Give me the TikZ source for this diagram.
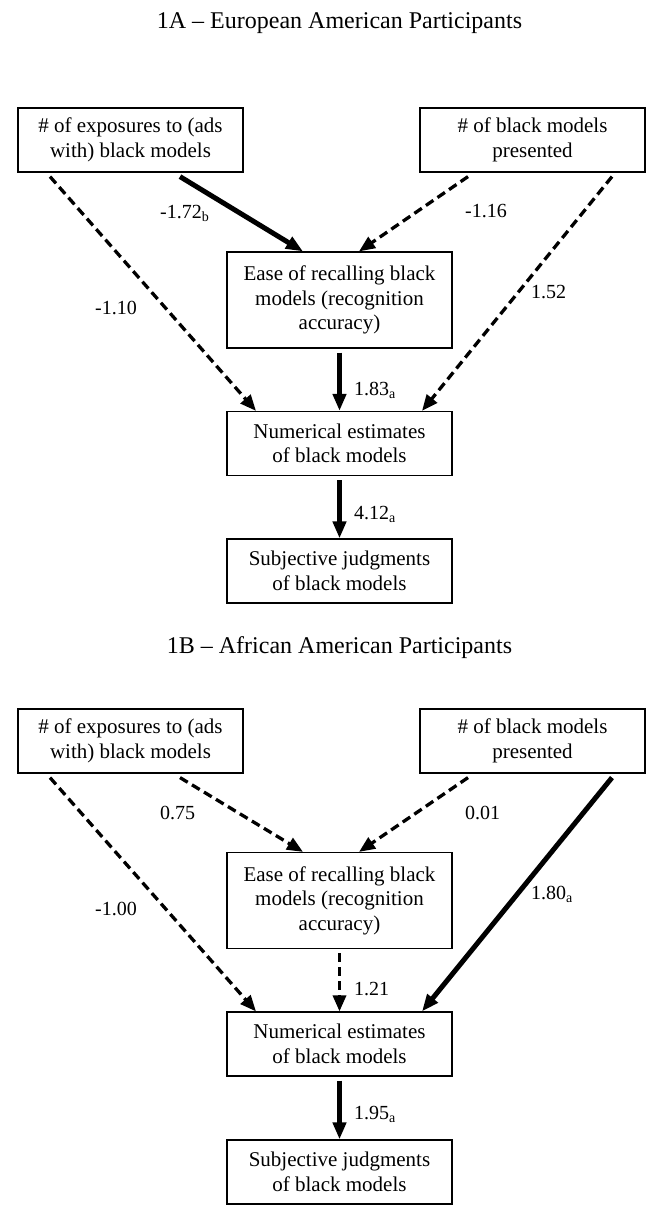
\documentclass[tikz,border=0pt]{standalone}
\usepackage{fontspec}
\setmainfont{Liberation Serif}
\usetikzlibrary{arrows.meta}
\begin{document}
\begin{tikzpicture}[x=1pt,y=-1pt,
  box/.style={draw,line width=1.2pt,rectangle,minimum width=225pt,inner sep=0pt,align=center,font=\fontsize{21}{24.5}\selectfont},
  twoline/.style={box,minimum height=64pt},
  threeline/.style={box,minimum height=96pt},
  title/.style={font=\fontsize{24}{28}\selectfont,anchor=base},
  lbl/.style={font=\fontsize{20}{24}\selectfont,anchor=base west,inner sep=0pt},
  sig/.style={line width=5pt,-{Triangle[length=17pt,width=13pt]}},
  nsig/.style={line width=3.3pt,dash pattern=on 9pt off 5pt,-{Triangle[length=16pt,width=13pt]}}
]
\useasboundingbox (0,0) rectangle (651,1205);

% ---------- 1A ----------
\node[title] (tA) at (339.5,28) {1A – European American Participants};
\node[twoline] (A1) at (130.5,140) {\# of exposures to (ads\\with) black models};
\node[twoline] (A2) at (532.5,140) {\# of black models\\presented};
\node[threeline] (EA) at (339.5,300) {Ease of recalling black\\models (recognition\\accuracy)};
\node[twoline] (NA) at (339.5,443.5) {Numerical estimates\\of black models};
\node[twoline] (SA) at (339.5,571) {Subjective judgments\\of black models};

\draw[sig]  ([xshift=49.5pt,yshift=-4pt]A1.south) -- ([xshift=-36.5pt]EA.north);
\draw[nsig] ([xshift=-64.5pt,yshift=-4pt]A2.south) -- ([xshift=19.5pt]EA.north);
\draw[nsig] ([xshift=-80.5pt,yshift=-4pt]A1.south) -- ([xshift=-83.5pt]NA.north);
\draw[nsig] ([xshift=79.5pt,yshift=-4pt]A2.south) -- ([xshift=82.5pt]NA.north);
\draw[sig]  ([yshift=-4pt]EA.south) -- (NA.north);
\draw[sig]  ([yshift=-4pt]NA.south) -- (SA.north);

\node[lbl] (lA1) at (160,218) {-1.72\textsubscript{b}};
\node[lbl] (lA2) at (465,217) {-1.16};
\node[lbl] (lA3) at (95,314) {-1.10};
\node[lbl] (lA4) at (531,298) {1.52};
\node[lbl] (lA5) at (354,395) {1.83\textsubscript{a}};
\node[lbl] (lA6) at (354,519) {4.12\textsubscript{a}};

% ---------- 1B ----------
\node[title] (tB) at (339.5,653) {1B – African American Participants};
\node[twoline] (B1) at (130.5,741) {\# of exposures to (ads\\with) black models};
\node[twoline] (B2) at (532.5,741) {\# of black models\\presented};
\node[threeline] (EB) at (339.5,900.5) {Ease of recalling black\\models (recognition\\accuracy)};
\node[twoline] (NB) at (339.5,1044) {Numerical estimates\\of black models};
\node[twoline] (SB) at (339.5,1172) {Subjective judgments\\of black models};

\draw[nsig] ([xshift=49.5pt,yshift=-4pt]B1.south) -- ([xshift=-36.5pt]EB.north);
\draw[nsig] ([xshift=-64.5pt,yshift=-4pt]B2.south) -- ([xshift=19.5pt]EB.north);
\draw[nsig] ([xshift=-80.5pt,yshift=-4pt]B1.south) -- ([xshift=-83.5pt]NB.north);
\draw[sig]  ([xshift=79.5pt,yshift=-4pt]B2.south) -- ([xshift=82.5pt]NB.north);
\draw[nsig] ([yshift=-4pt]EB.south) -- (NB.north);
\draw[sig]  ([yshift=-4pt]NB.south) -- (SB.north);

\node[lbl] (lB1) at (160,819) {0.75};
\node[lbl] (lB2) at (465,819) {0.01};
\node[lbl] (lB3) at (95,915) {-1.00};
\node[lbl] (lB4) at (531,899) {1.80\textsubscript{a}};
\node[lbl] (lB5) at (354,995) {1.21};
\node[lbl] (lB6) at (354,1119) {1.95\textsubscript{a}};
\end{tikzpicture}
\end{document}
